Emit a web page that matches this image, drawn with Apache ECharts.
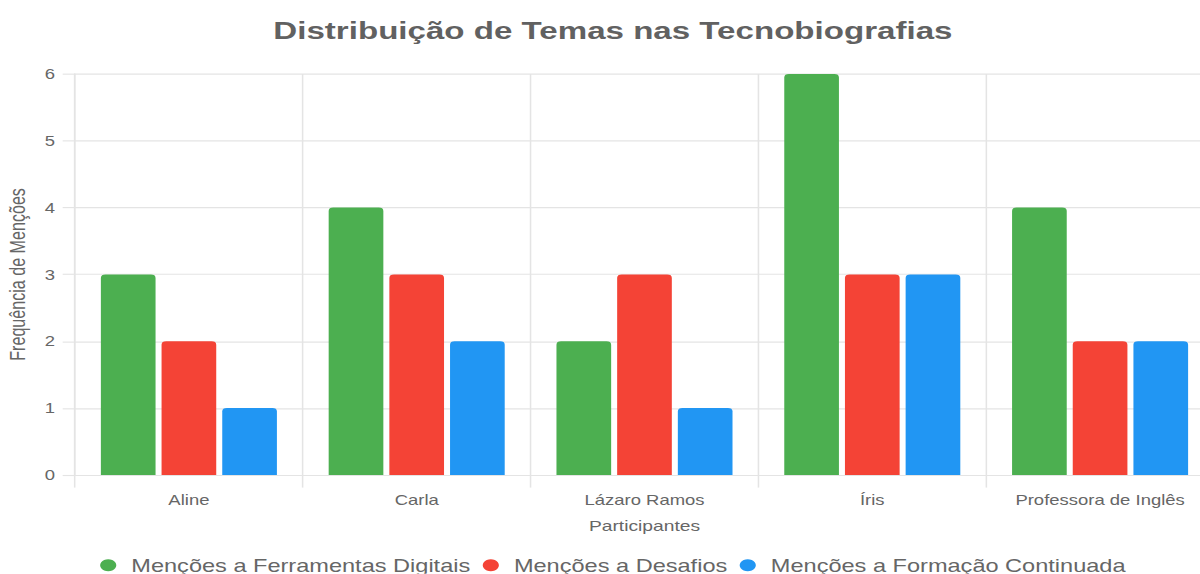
<!DOCTYPE html>
<html>
<head>
<meta charset="utf-8">
<script src="https://cdn.jsdelivr.net/npm/echarts@6/dist/echarts.min.js"></script>
<style>
  html, body { margin: 0; padding: 0; overflow: hidden; background: #fff; width: 1200px; height: 574px; }
  #chart { width: 796px; height: 499px; transform: scale(1.54, 1.15); transform-origin: 0 0; }
</style>
</head>
<body>
<div id="chart"></div>
<script>
const titleText = 'Distribuição de Temas nas Tecnobiografias';
const categories = ['Aline', 'Carla', 'Lázaro Ramos', 'Íris', 'Professora de Inglês'];
const seriesNames = ['Menções a Ferramentas Digitais', 'Menções a Desafios', 'Menções a Formação Continuada'];
const ferramentasDigitais = [3, 4, 2, 6, 4];
const desafios = [2, 3, 3, 3, 2];
const formacaoContinuada = [1, 2, 1, 3, 2];
const seriesColors = ['#4CAF50', '#F44336', '#2196F3'];
const xAxisTitle = 'Participantes';
const yAxisTitle = 'Frequência de Menções';

const font = '"Liberation Sans", Arial, Helvetica, sans-serif';
const gridColor = '#e4e4e4';
const textColor = '#666';

const seriesData = [ferramentasDigitais, desafios, formacaoContinuada];

const chart = echarts.init(document.getElementById('chart'), null, { renderer: 'svg' });
chart.setOption({
  animation: false,
  textStyle: { fontFamily: font },
  title: {
    text: titleText,
    left: 'center',
    top: 10.5,
    textStyle: { fontFamily: font, fontSize: 21.5, fontWeight: 'bold', color: '#616161' }
  },
  legend: {
    data: seriesNames,
    left: 'center',
    top: 479,
    icon: 'circle',
    itemWidth: 20,
    itemHeight: 10.5,
    itemGap: 8,
    textStyle: { fontFamily: font, fontSize: 15.3, color: textColor }
  },
  grid: { left: 48.7, top: 64.3, width: 739.6, height: 348.7, containLabel: false, outerBoundsMode: 'none' },
  xAxis: {
    type: 'category',
    data: categories,
    name: xAxisTitle,
    nameLocation: 'middle',
    nameGap: 38,
    nameTextStyle: { fontFamily: font, fontSize: 12.5, color: textColor },
    axisLine: { show: true, lineStyle: { color: gridColor } },
    axisTick: { show: true, length: 11, lineStyle: { color: gridColor } },
    axisLabel: { fontFamily: font, fontSize: 12, color: textColor, margin: 15.5 },
    splitLine: { show: true, lineStyle: { color: gridColor } }
  },
  yAxis: {
    type: 'value',
    min: 0,
    max: 6,
    interval: 1,
    name: yAxisTitle,
    nameLocation: 'middle',
    nameGap: 27.5,
    nameTextStyle: { fontFamily: font, fontSize: 14, color: textColor },
    axisLine: { show: true, lineStyle: { color: gridColor } },
    axisTick: { show: true, length: 8, lineStyle: { color: gridColor } },
    axisLabel: { fontFamily: font, fontSize: 12, color: textColor, margin: 13 },
    splitLine: { show: true, lineStyle: { color: gridColor } }
  },
  series: seriesNames.map((name, i) => ({
    name: name,
    type: 'bar',
    data: seriesData[i],
    barWidth: 35.5,
    barGap: '11%',
    itemStyle: { color: seriesColors[i], borderRadius: [3, 3, 0, 0] }
  }))
});
</script>
</body>
</html>
